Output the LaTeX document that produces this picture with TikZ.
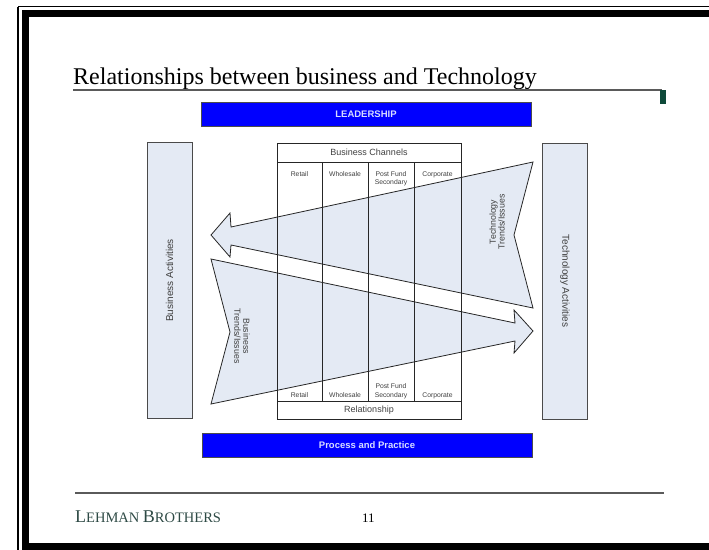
\documentclass[tikz,border=0pt]{standalone}
\usepackage{fontspec}
\setmainfont{Liberation Serif}
\setsansfont{Liberation Sans}
\definecolor{panelfill}{HTML}{E4EAF4}
\definecolor{panelline}{HTML}{4A4A4A}
\definecolor{barblue}{HTML}{0000FF}
\definecolor{bartext}{HTML}{D8DEFF}
\definecolor{lehman}{HTML}{2E4A45}
\definecolor{rulegray}{HTML}{5A5A5A}
\definecolor{rulegreen}{HTML}{0E4A3A}
\newcommand{\tinysans}[1]{\sffamily\fontsize{#1}{#1}\selectfont}
\tikzset{
  activity/.style={draw=panelline, fill=panelfill, line width=0.9pt,
    minimum width=45pt, minimum height=276pt, inner sep=0pt},
  bluebar/.style={draw=black!70, fill=barblue, line width=0.6pt,
    minimum width=330pt, minimum height=24pt, text=bartext,
    font=\tinysans{9.5}\bfseries},
  trend/.style={draw=black!85, fill=panelfill, line width=0.8pt,
    line join=miter},
  cell/.style={font=\tinysans{6.8}, text=black!75, align=center,
    inner sep=0pt},
  tablelines/.style={draw=black!85, line width=0.8pt},
}

\begin{document}
\begin{tikzpicture}[x=1pt, y=-1pt]
  \useasboundingbox (0,0) rectangle (709,549);
  \clip (0,0) rectangle (709,549);
  % slide frame
  \draw[line width=1.5pt] (18,6.5) -- (740,6.5);
  \draw[line width=1.5pt] (18,6.5) -- (18,560);
  \draw[line width=7pt] (25.5,13.5) rectangle (740,546);

  % heading
  \node[anchor=base west, inner sep=0pt, font=\fontsize{24}{28}\selectfont]
    (title) at (73,84) {Relationships between business and Technology};
  \draw[rulegray, line width=1.6pt] (73,90) -- (662,90);
  \fill[rulegreen] (660,90) rectangle (666,104);

  \node[bluebar] (leader) at (366,114) {LEADERSHIP};
  \node[bluebar] (practice) at (367,445.5) {Process and Practice};

  % activities
  \node[activity] (busact) at (169.5,280.5) {};
  \node[rotate=90, font=\tinysans{10}, text=black!75] (busactlbl)
    at (busact.center) {Business Activities};
  \node[activity] (techact) at (565,281) {};
  \node[rotate=-90, font=\tinysans{10}, text=black!75] (techactlbl)
    at (techact.center) {Technology Activities};

  % channel table
  \fill[white] (277,143) rectangle (461,419);

  % trend arrows
  \path[trend] (211,235) -- (230,213) -- (231,227) -- (533,162)
    -- (514,235) -- (533,308) -- (231,245) -- (230,257) -- cycle;
  \path[trend] (211,259) -- (515,323) -- (514,310) -- (533,331)
    -- (514,353) -- (515,341) -- (211,404) -- (230,332) -- cycle;
  \node[rotate=90, cell, font=\tinysans{8.8}] (techtrend) at (497,222)
    {Technology\\Trends/Issues};
  \node[rotate=-90, cell, font=\tinysans{8.8}] (bustrend) at (242,336)
    {Business\\Trends/Issues};

  \path[tablelines] (277,143) rectangle (461,419);
  \path[tablelines] (277,162) -- (461,162);
  \path[tablelines] (277,401) -- (461,401);
  \foreach \x in {322, 368, 414}
    \path[tablelines] (\x,162) -- (\x,401);

  \node[cell, font=\tinysans{9}] (channels) at (369,152.5) {Business Channels};
  \node[cell, font=\tinysans{9}] (relation) at (369,410) {Relationship};
  \foreach \x/\lbl [count=\i] in {299.5/Retail, 345/Wholesale, 437.5/Corporate}{
    \node[cell, anchor=base] (top\i) at (\x,176) {\lbl};
    \node[cell, anchor=base] (bot\i) at (\x,397) {\lbl};
  }
  \node[cell, anchor=base] (toppost) at (391,176) {Post Fund};
  \node[cell, anchor=base] (topsec) at (391,184) {Secondary};
  \node[cell, anchor=base] (botpost) at (391,388) {Post Fund};
  \node[cell, anchor=base] (botsec) at (391,397) {Secondary};

  % footer
  \draw[rulegray, line width=1.6pt] (75,493) -- (664,493);
  \node[anchor=base west, inner sep=0pt, text=lehman] (brand) at (75,522)
    {\fontsize{18}{18}\selectfont L\fontsize{14.5}{15}\selectfont EHMAN
     \fontsize{18}{18}\selectfont B\fontsize{14.5}{15}\selectfont ROTHERS};
  \node[anchor=base west, inner sep=0pt, font=\fontsize{13}{14}\selectfont]
    (page) at (362,522) {11};
\end{tikzpicture}
\end{document}
